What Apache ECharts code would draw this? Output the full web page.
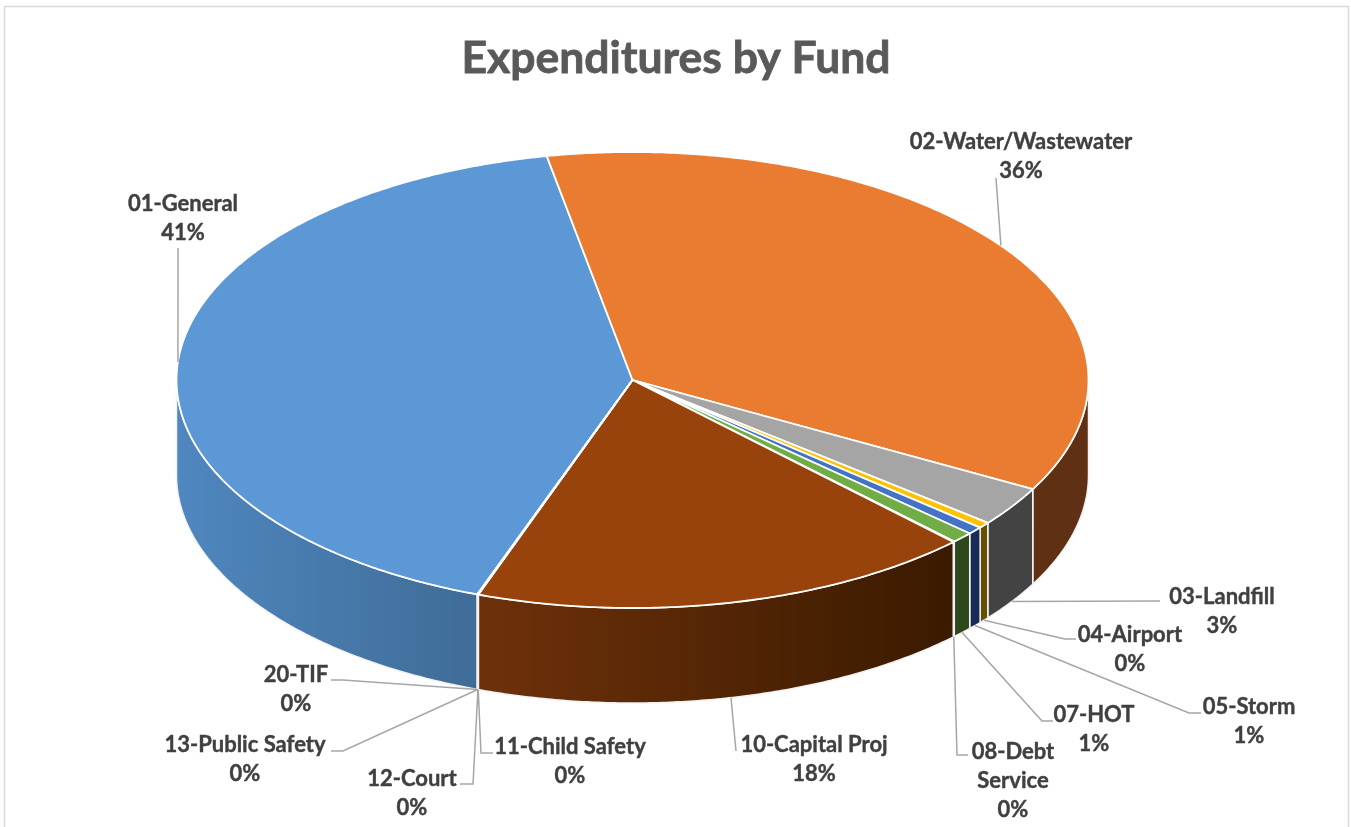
<!DOCTYPE html>
<html>
<head>
<meta charset="utf-8">
<title>Expenditures by Fund</title>
<script src="https://cdn.jsdelivr.net/npm/echarts@6/dist/echarts.min.js"></script>
<style>
html, body { margin: 0; padding: 0; background: #fff; }
#chart { width: 1351px; height: 827px; }
</style>
</head>
<body>
<div id="chart"></div>
<script>
// data, clockwise from the first slice
var funds = ["01-General", "02-Water/Wastewater", "03-Landfill", "04-Airport", "05-Storm", "07-HOT", "08-Debt\nService", "10-Capital Proj", "11-Child Safety", "12-Court", "13-Public Safety", "20-TIF"];
var shares = [41.45, 35.95, 2.83, 0.42, 0.55, 0.78, 0.05, 17.9, 0.01, 0.01, 0.01, 0.01];

var topColors = ["#5b98d5", "#ea7c32", "#a5a5a5", "#ffc000", "#4472c4", "#70ad47", "#255e91", "#98430b", "#636363", "#997300", "#264478", "#43682b"];
var wallColors = [["#4f87bf", "#3f6c97"], ["#5f3013", "#5f3013"], ["#434343", "#434343"], ["#665000", "#665000"], ["#172b59", "#172b59"], ["#2d481c", "#2d481c"], ["#163856", "#163856"], ["#6e310a", "#3a1a00"], ["#333333", "#333333"], ["#4d3a00", "#4d3a00"], ["#13223c", "#13223c"], ["#223416", "#223416"]];

// pie layout
var pie = { cx: 632.5, cy: 380, rx: 456, ry: 228, depth: 95, start: 199.9 };

// centre x / first line y of each label, then the bend points of its leader line
var labelPos = [[183, 189], [1021, 127], [1222, 582], [1130, 620], [1249, 692], [1094, 700], [1013, 737], [814, 730], [570, 732], [412, 764], [245, 730], [296, 660]];
var leaderBends = [
	[[178, 248]],
	[[996, 178]],
	[[1160, 601]],
	[[1065, 639], [1076, 639]],
	[[1189, 713], [1201, 713]],
	[[1042, 721], [1053, 721]],
	[[957, 755], [968, 755]],
	[[736, 751]],
	[[481, 753], [493, 753]],
	[[473, 784], [460, 784]],
	[[343, 751], [331, 751]],
	[[343, 680], [331, 680]]
];

var total = 0;
var spans = [];
for(var i = 0; i < shares.length; i++){
	total += shares[i];
}
var angle = pie.start;
for(var i = 0; i < shares.length; i++){
	var sweep = shares[i] / total * 360;
	spans.push([angle, angle + sweep]);
	angle += sweep;
}

// deg is clockwise from 12 o'clock
function edgePoint(deg, drop){
	var r = deg * Math.PI / 180;
	return [pie.cx + pie.rx * Math.sin(r), pie.cy - pie.ry * Math.cos(r) + (drop || 0)];
}
function arcPoints(from, to, drop){
	var pts = [];
	var n = Math.max(2, Math.ceil(Math.abs(to - from) / 0.5));
	for(var i = 0; i <= n; i++){
		pts.push(edgePoint(from + (to - from) * i / n, drop));
	}
	return pts;
}
// the part of a slice's rim that faces the viewer
function frontSpan(span){
	var ranges = [[90, 270], [450, 630]];
	for(var i = 0; i < ranges.length; i++){
		var a = Math.max(span[0], ranges[i][0]);
		var b = Math.min(span[1], ranges[i][1]);
		if(b > a) return [a, b];
	}
	return null;
}

function renderWall(params, api){
	var i = params.dataIndex;
	var f = frontSpan(spans[i]);
	if(!f) return null;
	var pts = arcPoints(f[0], f[1], 0).concat(arcPoints(f[1], f[0], pie.depth));
	return {
		type: "polygon",
		shape: { points: pts },
		style: {
			fill: {
				type: "linear", x: 0, y: 0, x2: 1, y2: 0,
				colorStops: [{ offset: 0, color: wallColors[i][0] }, { offset: 1, color: wallColors[i][1] }]
			},
			stroke: "#f2f2f2",
			lineWidth: 1.5
		}
	};
}
function renderTop(params, api){
	var i = params.dataIndex;
	var pts = [[pie.cx, pie.cy]].concat(arcPoints(spans[i][0], spans[i][1], 0));
	return {
		type: "polygon",
		shape: { points: pts },
		style: {
			fill: topColors[i],
			stroke: "#fff",
			lineWidth: 1.8,
			lineJoin: "round"
		}
	};
}
function renderLabel(params, api){
	var i = params.dataIndex;
	var mid = (spans[i][0] + spans[i][1]) / 2;
	var rad = ((mid % 360) + 360) % 360;
	var isFront = rad > 90 && rad < 270;
	var anchor = edgePoint(mid, isFront ? pie.depth : 0);
	return {
		type: "group",
		children: [{
			type: "polyline",
			shape: { points: [anchor].concat(leaderBends[i]) },
			style: { stroke: "#a6a6a6", lineWidth: 1.5, fill: null }
		}, {
			type: "text",
			style: {
				text: funds[i] + "\n" + Math.round(api.value(0) / total * 100) + "%",
				x: labelPos[i][0],
				y: labelPos[i][1],
				align: "center",
				verticalAlign: "top",
				fill: "#404040",
				stroke: "#404040",
				lineWidth: 0.4,
				fontFamily: "Lato",
				fontWeight: "bold",
				fontSize: 22,
				lineHeight: 29
			}
		}]
	};
}

var rows = [];
for(var i = 0; i < shares.length; i++){
	rows.push([shares[i]]);
}

var chart = echarts.init(document.getElementById("chart"), null, { renderer: "canvas" });
chart.setOption({
	animation: false,
	backgroundColor: "#fff",
	title: {
		text: "Expenditures by Fund",
		left: 671,
		top: 31,
		textAlign: "center",
		textStyle: { fontFamily: "Lato", fontWeight: "bold", fontSize: 44.5, color: "#595959", textBorderColor: "#595959", textBorderWidth: 0.8 }
	},
	graphic: [{
		type: "rect",
		silent: true,
		shape: { x: 4.5, y: 6.5, width: 1344, height: 840 },
		style: { fill: null, stroke: "#d9d9d9", lineWidth: 1.5 }
	}],
	series: [
		{ type: "custom", coordinateSystem: "none", z: 2, silent: true, data: rows, renderItem: renderWall },
		{ type: "custom", coordinateSystem: "none", z: 3, silent: true, data: rows, renderItem: renderTop },
		{ type: "custom", coordinateSystem: "none", z: 4, silent: true, data: rows, renderItem: renderLabel }
	]
});
</script>
</body>
</html>
